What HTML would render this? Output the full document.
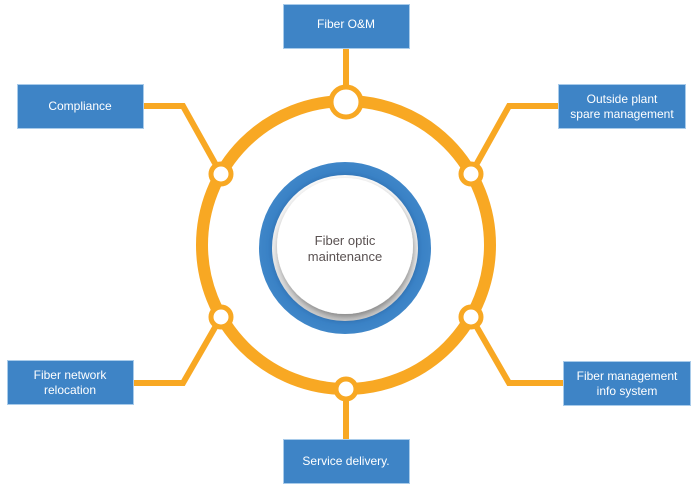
<!DOCTYPE html>
<html>
<head>
<meta charset="utf-8">
<style>
  html, body { margin: 0; padding: 0; background: #ffffff; }
  body { width: 696px; height: 488px; overflow: hidden; position: relative; }
  svg { position: absolute; left: 0; top: 0; }
  text { font-family: "Liberation Sans", "DejaVu Sans", sans-serif; }
</style>
</head>
<body>
<svg width="696" height="488" viewBox="0 0 696 488" xmlns="http://www.w3.org/2000/svg">
  <defs>
    <filter id="ds" x="-30%" y="-30%" width="160%" height="160%">
      <feDropShadow dx="1" dy="3" stdDeviation="3" flood-color="#000" flood-opacity="0.35"/>
    </filter>
    <linearGradient id="gband" x1="0" y1="0" x2="0" y2="1">
      <stop offset="0" stop-color="#fbfbfb"/>
      <stop offset="0.6" stop-color="#e8e8e8"/>
      <stop offset="1" stop-color="#c9c9c9"/>
    </linearGradient>
    <radialGradient id="gblue" cx="0.5" cy="0.5" r="0.5">
      <stop offset="0.8" stop-color="#2f6fb0"/>
      <stop offset="0.9" stop-color="#3a82c6"/>
      <stop offset="1" stop-color="#3f86c8"/>
    </radialGradient>
  </defs>

  <!-- connectors -->
  <g stroke="#f8a823" stroke-width="6" fill="none" stroke-linejoin="miter">
    <path d="M346 48 L346 101"/>
    <path d="M144 106 L183 106 L221 174"/>
    <path d="M558 106 L509 106 L471 174"/>
    <path d="M133 383 L183 383 L221 317"/>
    <path d="M563 383 L509 383 L471 317"/>
    <path d="M346 389 L346 439"/>
  </g>

  <!-- main ring -->
  <circle cx="346" cy="245" r="144" fill="none" stroke="#f8a823" stroke-width="12"/>

  <!-- node circles -->
  <g fill="#ffffff" stroke="#f8a823" stroke-width="5">
    <circle cx="346" cy="102" r="15"/>
    <circle cx="221" cy="174" r="10"/>
    <circle cx="471" cy="174" r="10"/>
    <circle cx="221" cy="317" r="10"/>
    <circle cx="471" cy="317" r="10"/>
    <circle cx="346" cy="389" r="10"/>
  </g>

  <!-- center -->
  <circle cx="345" cy="248" r="86" fill="url(#gblue)"/>
  <circle cx="345" cy="248" r="73" fill="url(#gband)"/>
  <circle cx="345" cy="246" r="68" fill="#ffffff" filter="url(#ds)"/>
  <text x="345" y="245" font-size="13" fill="#5a5252" text-anchor="middle">Fiber optic</text>
  <text x="345" y="261" font-size="13" fill="#5a5252" text-anchor="middle">maintenance</text>

  <!-- boxes -->
  <g fill="#3e84c6" stroke="#a8cbea" stroke-width="1">
    <rect x="283.5" y="4.5" width="126" height="44"/>
    <rect x="17.5" y="84.5" width="126" height="44"/>
    <rect x="558.5" y="84.5" width="127" height="44"/>
    <rect x="7.5" y="360.5" width="126" height="44"/>
    <rect x="563.5" y="361.5" width="127" height="44"/>
    <rect x="283.5" y="439.5" width="126" height="44"/>
  </g>

  <g fill="#ffffff" font-size="12" text-anchor="middle">
    <text x="346" y="28">Fiber O&amp;M</text>
    <text x="80" y="110">Compliance</text>
    <text x="622" y="103">Outside plant</text>
    <text x="622" y="118">spare management</text>
    <text x="70" y="379">Fiber network</text>
    <text x="70" y="394">relocation</text>
    <text x="627" y="380">Fiber management</text>
    <text x="627" y="395">info system</text>
    <text x="346" y="465">Service delivery.</text>
  </g>
</svg>
</body>
</html>
